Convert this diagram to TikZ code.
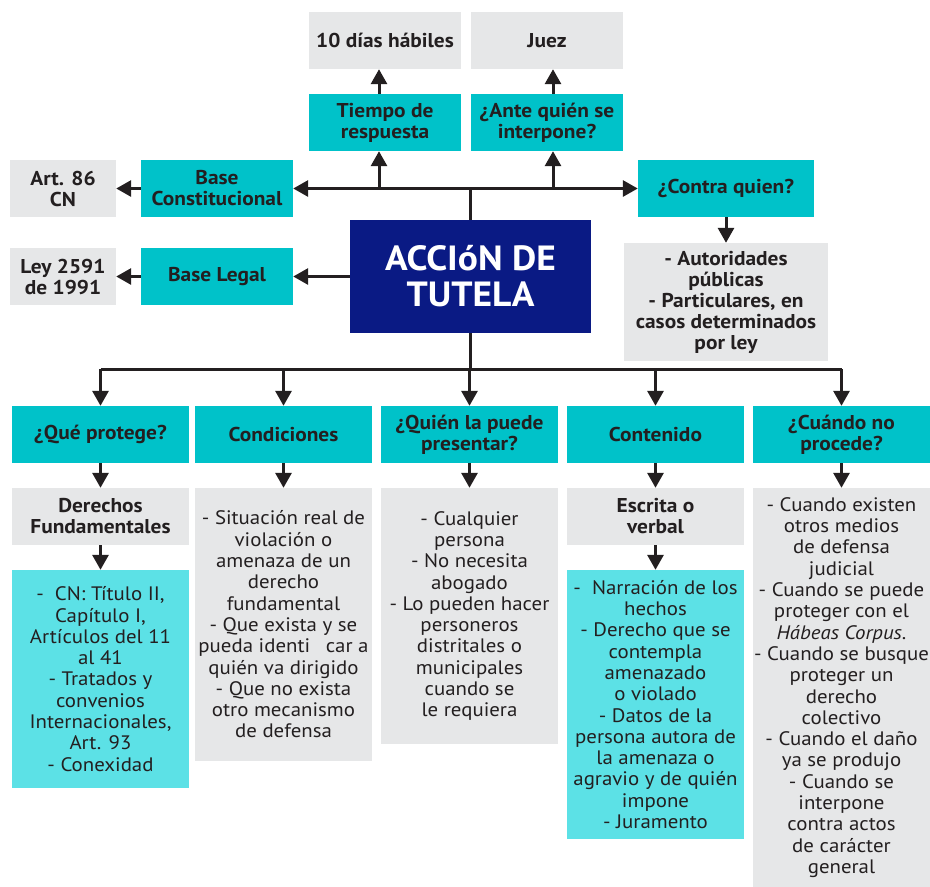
\documentclass[tikz,border=0pt]{standalone}
\usepackage{fontspec}
\setmainfont[FakeStretch=1.07]{PT Sans}
\usetikzlibrary{arrows.meta}

\definecolor{ink}{HTML}{231F20}
\definecolor{tealfill}{HTML}{00C2C9}
\definecolor{greyfill}{HTML}{E6E7E8}
\definecolor{cyanfill}{HTML}{5CE1E6}
\definecolor{navyfill}{HTML}{0A1A84}

\newcommand\bodyfont{\fontsize{19.5}{21.3}\selectfont}
\newcommand\boldfont{\fontsize{20}{21}\selectfont\bfseries}
\newcommand\titlefont{\fontsize{35}{36}\selectfont\bfseries}

\tikzset{
  x=1pt, y=-1pt,
  box/.style={rectangle, inner sep=0pt, align=center, text=ink},
  tealbox/.style={box, fill=tealfill, font=\boldfont},
  greybold/.style={box, fill=greyfill, font=\boldfont},
  greytext/.style={box, fill=greyfill, font=\bodyfont},
  cyantext/.style={box, fill=cyanfill, font=\bodyfont},
  conn/.style={draw=ink, line width=3pt},
  arr/.style={conn, -{Triangle[width=16pt,length=15pt]}},
  biarr/.style={conn, {Triangle[width=16pt,length=15pt]}-{Triangle[width=16pt,length=15pt]}},
}

\begin{document}
\begin{tikzpicture}
\useasboundingbox (0,0) rectangle (930,887);

% central node
\node[box, fill=navyfill, text=white, font=\titlefont, minimum width=241pt, minimum height=113pt]
  (main) at (470.5,276.5) {ACCIóN DE\\TUTELA};

% upper branch
\node[greybold, minimum width=152pt, minimum height=57pt] (t1) at (385,40.5) {10 días hábiles};
\node[greybold, minimum width=152pt, minimum height=57pt] (t2) at (547,40.5) {Juez};
\node[tealbox, minimum width=152pt, minimum height=57pt] (q1) at (385,122.5) {Tiempo de\\respuesta};
\node[tealbox, minimum width=152pt, minimum height=57pt] (q2) at (547,122.5) {¿Ante quién se\\interpone?};

% left branch
\node[greybold, minimum width=106pt, minimum height=57pt] (art) at (63,188.5) {Art. 86\\CN};
\node[tealbox, minimum width=152pt, minimum height=57pt] (bc) at (217,188.5) {Base\\Constitucional};
\node[greybold, minimum width=106pt, minimum height=57pt] (ley) at (63,276.5) {Ley 2591\\de 1991};
\node[tealbox, minimum width=152pt, minimum height=57pt] (bl) at (217,276.5) {Base Legal};

% right branch
\node[tealbox, minimum width=176pt, minimum height=57pt] (cq) at (726,188.5) {¿Contra quien?};
\node[greybold, minimum width=204pt, minimum height=118pt] (aut) at (726,302)
  {- Autoridades\\públicas\\- Particulares, en\\casos determinados\\por ley};

% lower row of questions
\node[tealbox, minimum width=177pt, minimum height=57pt] (h1) at (100.5,434.5) {¿Qué protege?};
\node[tealbox, minimum width=177pt, minimum height=57pt] (h2) at (283.5,434.5) {Condiciones};
\node[tealbox, minimum width=177pt, minimum height=57pt] (h3) at (469.5,434.5) {¿Quién la puede\\presentar?};
\node[tealbox, minimum width=177pt, minimum height=57pt] (h4) at (655.5,434.5) {Contenido};
\node[tealbox, minimum width=177pt, minimum height=57pt] (h5) at (841.5,434.5) {¿Cuándo no\\procede?};

% answers
\node[greybold, minimum width=177pt, minimum height=57pt] (g1) at (100.5,516.5) {Derechos\\Fundamentales};
\node[cyantext, minimum width=177pt, minimum height=218pt] (k1) at (100.5,679)
  {-\ \ CN: Título II,\\Capítulo I,\\Artículos del 11\\al 41\\- Tratados y\\convenios\\Internacionales,\\Art. 93\\- Conexidad};

\node[greytext, minimum width=177pt, minimum height=273pt] (g2) at (283.5,624.5)
  {- Situación real de\\violación o\\amenaza de un\\derecho\\fundamental\\- Que exista y se\\pueda identi\hspace{0.8em}car a\\quién va dirigido\\- Que no exista\\otro mecanismo\\de defensa};

\node[greytext, minimum width=177pt, minimum height=256pt] (g3) at (469.5,616)
  {- Cualquier\\persona\\- No necesita\\abogado\\- Lo pueden hacer\\personeros\\distritales o\\municipales\\cuando se\\le requiera};

\node[greybold, minimum width=177pt, minimum height=57pt] (g4) at (655.5,516.5) {Escrita o\\verbal};
\node[cyantext, minimum width=177pt, minimum height=269pt] (k4) at (655.5,704.5)
  {-\ \ Narración de los\\hechos\\- Derecho que se\\contempla\\amenazado\\o violado\\- Datos de la\\persona autora de\\la amenaza o\\agravio y de quién\\impone\\- Juramento};

\node[greytext, minimum width=177pt, minimum height=399pt] (g5) at (841.5,687.5)
  {- Cuando existen\\otros medios\\de defensa\\judicial\\- Cuando se puede\\proteger con el\\\textit{Hábeas Corpus.}\\- Cuando se busque\\proteger un\\derecho\\colectivo\\- Cuando el daño\\ya se produjo\\- Cuando se\\interpone\\contra actos\\de carácter\\general};

% upper bus
\coordinate (topjoin) at (470.5,188.5);
\coordinate (up1) at (379,188.5);
\coordinate (up2) at (553,188.5);
\draw[conn] (main.north) -- (topjoin);
\draw[biarr] (bc.east) -- (cq.west);
\draw[arr] (up1) -- (up1 |- q1.south);
\draw[arr] (up1 |- q1.north) -- (up1 |- t1.south);
\draw[arr] (up2) -- (up2 |- q2.south);
\draw[arr] (up2 |- q2.north) -- (up2 |- t2.south);

\draw[arr] (bc.west) -- (art.east);
\draw[arr] (main.west) -- (bl.east);
\draw[arr] (bl.west) -- (ley.east);
\draw[arr] (cq.south) -- (aut.north);

% lower bus
\coordinate (bus) at (470.5,369);
\draw[conn] (main.south) -- (bus);
\draw[conn] (h1.north |- bus) -- (h5.north |- bus);
\foreach \n in {h1,h2,h3,h4,h5}
  \draw[arr] (\n.north |- bus) -- (\n.north);

% column links
\draw[arr] (h1.south) -- (g1.north);
\draw[arr] (g1.south) -- (k1.north);
\draw[arr] (h2.south) -- (g2.north);
\draw[arr] (h3.south) -- (g3.north);
\draw[arr] (h4.south) -- (g4.north);
\draw[arr] (g4.south) -- (k4.north);
\draw[arr] (h5.south) -- (g5.north);
\end{tikzpicture}
\end{document}
